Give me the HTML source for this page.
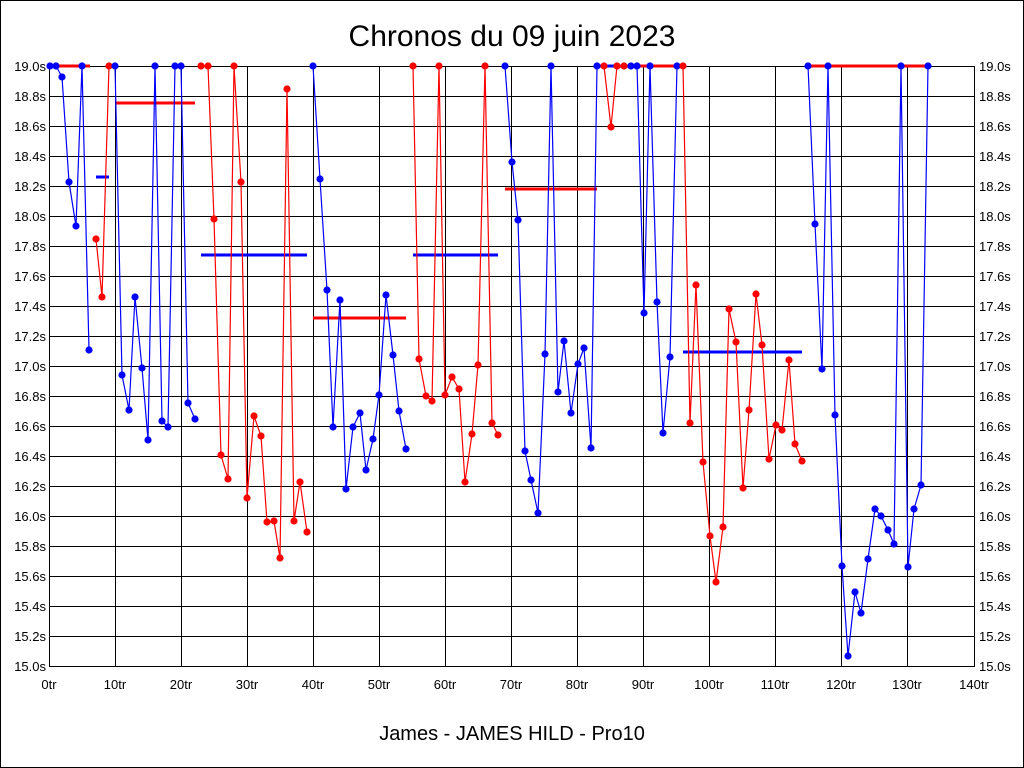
<!DOCTYPE html>
<html><head><meta charset="utf-8"><style>
html,body{margin:0;padding:0;background:#fff}
svg{display:block}
text{font-family:"Liberation Sans",Arial,sans-serif;fill:#000}
</style></head><body>
<svg width="1024" height="768" viewBox="0 0 1024 768" xmlns="http://www.w3.org/2000/svg">
<defs>
<marker id="mb" markerUnits="userSpaceOnUse" markerWidth="10" markerHeight="10" refX="5" refY="5" viewBox="0 0 10 10"><circle cx="5" cy="5" r="3.6" fill="#0000ff"/></marker>
<marker id="mr" markerUnits="userSpaceOnUse" markerWidth="10" markerHeight="10" refX="5" refY="5" viewBox="0 0 10 10"><circle cx="5" cy="5" r="3.6" fill="#ff0000"/></marker>
</defs>
<rect x="0.5" y="0.5" width="1023" height="767" fill="#fff" stroke="#000"/>
<text x="512" y="46" font-size="30" text-anchor="middle">Chronos du 09 juin 2023</text>
<g stroke="#000" stroke-width="1">
<line x1="49" y1="66.5" x2="975" y2="66.5"/><line x1="49" y1="96.5" x2="975" y2="96.5"/><line x1="49" y1="126.5" x2="975" y2="126.5"/><line x1="49" y1="156.5" x2="975" y2="156.5"/><line x1="49" y1="186.5" x2="975" y2="186.5"/><line x1="49" y1="216.5" x2="975" y2="216.5"/><line x1="49" y1="246.5" x2="975" y2="246.5"/><line x1="49" y1="276.5" x2="975" y2="276.5"/><line x1="49" y1="306.5" x2="975" y2="306.5"/><line x1="49" y1="336.5" x2="975" y2="336.5"/><line x1="49" y1="366.5" x2="975" y2="366.5"/><line x1="49" y1="396.5" x2="975" y2="396.5"/><line x1="49" y1="426.5" x2="975" y2="426.5"/><line x1="49" y1="456.5" x2="975" y2="456.5"/><line x1="49" y1="486.5" x2="975" y2="486.5"/><line x1="49" y1="516.5" x2="975" y2="516.5"/><line x1="49" y1="546.5" x2="975" y2="546.5"/><line x1="49" y1="576.5" x2="975" y2="576.5"/><line x1="49" y1="606.5" x2="975" y2="606.5"/><line x1="49" y1="636.5" x2="975" y2="636.5"/><line x1="49" y1="666.5" x2="975" y2="666.5"/>
<line x1="49.5" y1="66" x2="49.5" y2="667"/><line x1="115.5" y1="66" x2="115.5" y2="667"/><line x1="181.5" y1="66" x2="181.5" y2="667"/><line x1="247.5" y1="66" x2="247.5" y2="667"/><line x1="313.5" y1="66" x2="313.5" y2="667"/><line x1="379.5" y1="66" x2="379.5" y2="667"/><line x1="445.5" y1="66" x2="445.5" y2="667"/><line x1="511.5" y1="66" x2="511.5" y2="667"/><line x1="577.5" y1="66" x2="577.5" y2="667"/><line x1="643.5" y1="66" x2="643.5" y2="667"/><line x1="709.5" y1="66" x2="709.5" y2="667"/><line x1="775.5" y1="66" x2="775.5" y2="667"/><line x1="841.5" y1="66" x2="841.5" y2="667"/><line x1="907.5" y1="66" x2="907.5" y2="667"/><line x1="974.5" y1="66" x2="974.5" y2="667"/>
</g>
<g font-size="13" text-anchor="end">
<text x="46" y="71">19.0s</text><text x="46" y="101">18.8s</text><text x="46" y="131">18.6s</text><text x="46" y="161">18.4s</text><text x="46" y="191">18.2s</text><text x="46" y="221">18.0s</text><text x="46" y="251">17.8s</text><text x="46" y="281">17.6s</text><text x="46" y="311">17.4s</text><text x="46" y="341">17.2s</text><text x="46" y="371">17.0s</text><text x="46" y="401">16.8s</text><text x="46" y="431">16.6s</text><text x="46" y="461">16.4s</text><text x="46" y="491">16.2s</text><text x="46" y="521">16.0s</text><text x="46" y="551">15.8s</text><text x="46" y="581">15.6s</text><text x="46" y="611">15.4s</text><text x="46" y="641">15.2s</text><text x="46" y="671">15.0s</text>
</g>
<g font-size="13" text-anchor="start">
<text x="979" y="71">19.0s</text><text x="979" y="101">18.8s</text><text x="979" y="131">18.6s</text><text x="979" y="161">18.4s</text><text x="979" y="191">18.2s</text><text x="979" y="221">18.0s</text><text x="979" y="251">17.8s</text><text x="979" y="281">17.6s</text><text x="979" y="311">17.4s</text><text x="979" y="341">17.2s</text><text x="979" y="371">17.0s</text><text x="979" y="401">16.8s</text><text x="979" y="431">16.6s</text><text x="979" y="461">16.4s</text><text x="979" y="491">16.2s</text><text x="979" y="521">16.0s</text><text x="979" y="551">15.8s</text><text x="979" y="581">15.6s</text><text x="979" y="611">15.4s</text><text x="979" y="641">15.2s</text><text x="979" y="671">15.0s</text>
</g>
<g font-size="13" text-anchor="middle">
<text x="49" y="689">0tr</text><text x="115" y="689">10tr</text><text x="181" y="689">20tr</text><text x="247" y="689">30tr</text><text x="313" y="689">40tr</text><text x="379" y="689">50tr</text><text x="445" y="689">60tr</text><text x="511" y="689">70tr</text><text x="577" y="689">80tr</text><text x="643" y="689">90tr</text><text x="709" y="689">100tr</text><text x="775" y="689">110tr</text><text x="841" y="689">120tr</text><text x="907" y="689">130tr</text><text x="974" y="689">140tr</text>
</g>
<text x="512" y="740" font-size="20" text-anchor="middle">James - JAMES HILD - Pro10</text>
<g stroke-width="3">
<line x1="50" y1="66" x2="90" y2="66" stroke="#ff0000"/>
<line x1="116" y1="103" x2="195" y2="103" stroke="#ff0000"/>
<line x1="96" y1="177" x2="109" y2="177" stroke="#0000ff"/>
<line x1="201" y1="255" x2="307" y2="255" stroke="#0000ff"/>
<line x1="313" y1="318" x2="406" y2="318" stroke="#ff0000"/>
<line x1="413" y1="255" x2="498" y2="255" stroke="#0000ff"/>
<line x1="505" y1="189" x2="597" y2="189" stroke="#ff0000"/>
<line x1="597" y1="66" x2="624" y2="66" stroke="#0000ff"/>
<line x1="624" y1="66" x2="684" y2="66" stroke="#ff0000"/>
<line x1="683" y1="352" x2="802" y2="352" stroke="#0000ff"/>
<line x1="808" y1="66" x2="928" y2="66" stroke="#ff0000"/>
</g>
<g fill="none" stroke-width="1.2">
<polyline stroke="#0000ff" marker-start="url(#mb)" marker-mid="url(#mb)" marker-end="url(#mb)" points="50,66 56,66 62,77 69,182 76,226 82,66 89,350"/>
<polyline stroke="#ff0000" marker-start="url(#mr)" marker-mid="url(#mr)" marker-end="url(#mr)" points="96,239 102,297 109,66"/>
<polyline stroke="#0000ff" marker-start="url(#mb)" marker-mid="url(#mb)" marker-end="url(#mb)" points="115,66 122,375 129,410 135,297 142,368 148,440 155,66 162,421 168,427 175,66 181,66 188,403 195,419"/>
<polyline stroke="#ff0000" marker-start="url(#mr)" marker-mid="url(#mr)" marker-end="url(#mr)" points="201,66 208,66 214,219 221,455 228,479 234,66 241,182 247,498 254,416 261,436 267,522 274,521 280,558 287,89 294,521 300,482 307,532"/>
<polyline stroke="#0000ff" marker-start="url(#mb)" marker-mid="url(#mb)" marker-end="url(#mb)" points="313,66 320,179 327,290 333,427 340,300 346,489 353,427 360,413 366,470 373,439 379,395 386,295 393,355 399,411 406,449"/>
<polyline stroke="#ff0000" marker-start="url(#mr)" marker-mid="url(#mr)" marker-end="url(#mr)" points="413,66 419,359 426,396 432,401 439,66 445,395 452,377 459,389 465,482 472,434 478,365 485,66 492,423 498,435"/>
<polyline stroke="#0000ff" marker-start="url(#mb)" marker-mid="url(#mb)" marker-end="url(#mb)" points="505,66 512,162 518,220 525,451 531,480 538,513 545,354 551,66 558,392 564,341 571,413 578,364 584,348 591,448 597,66"/>
<polyline stroke="#ff0000" marker-start="url(#mr)" marker-mid="url(#mr)" marker-end="url(#mr)" points="604,66 611,127 617,66 624,66"/>
<polyline stroke="#0000ff" marker-start="url(#mb)" marker-mid="url(#mb)" marker-end="url(#mb)" points="631,66 637,66 644,313 650,66 657,302 663,433 670,357 677,66"/>
<polyline stroke="#ff0000" marker-start="url(#mr)" marker-mid="url(#mr)" marker-end="url(#mr)" points="683,66 690,423 696,285 703,462 710,536 716,582 723,527 729,309 736,342 743,488 749,410 756,294 762,345 769,459 776,425 782,430 789,360 795,444 802,461"/>
<polyline stroke="#0000ff" marker-start="url(#mb)" marker-mid="url(#mb)" marker-end="url(#mb)" points="808,66 815,224 822,369 828,66 835,415 842,566 848,656 855,592 861,613 868,559 875,509 881,516 888,530 894,544 901,66 908,567 914,509 921,485 928,66"/>
</g>
</svg>
</body></html>
